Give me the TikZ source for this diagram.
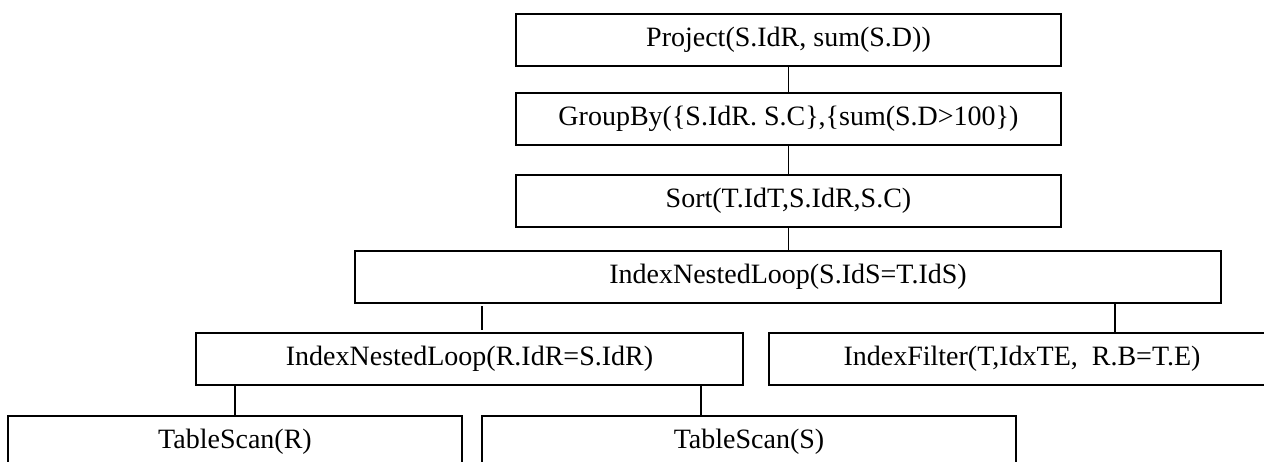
\documentclass[tikz,border=0pt]{standalone}
\usepackage{fontspec}
\setmainfont{Liberation Serif}
\begin{document}
\begin{tikzpicture}[x=1pt,y=-1pt,
  box/.style={draw, line width=2.6pt, inner sep=0pt, minimum height=52pt,
    font=\fontsize{28}{30}\selectfont},
  link/.style={line width=1.8pt}]
\useasboundingbox (0,0) rectangle (1264,462);
\clip (0,0) rectangle (1264,462);
\node[box, minimum width=545pt] (proj) at (788.5,40) {Project(S.IdR, sum(S.D))};
\node[box, minimum width=545pt] (grp) at (788.5,119) {GroupBy(\{S.IdR. S.C\},\{sum(S.D>100\})};
\node[box, minimum width=545pt] (sort) at (788.5,201) {Sort(T.IdT,S.IdR,S.C)};
\node[box, minimum width=866pt] (inl1) at (788,277) {IndexNestedLoop(S.IdS=T.IdS)};
\node[box, minimum width=547pt] (inl2) at (469.5,359) {IndexNestedLoop(R.IdR=S.IdR)};
\node[box, minimum width=506pt] (filt) at (1022,359) {IndexFilter(T,IdxTE,\ \ R.B=T.E)};
\node[box, minimum width=454pt] (tsR) at (235,442) {TableScan(R)};
\node[box, minimum width=534pt] (tsS) at (749,442) {TableScan(S)};
\coordinate (c1) at (482,0);
\coordinate (c2) at (1115,0);
\coordinate (c3) at (701,0);
\draw[link] (proj) -- (grp);
\draw[link] (grp) -- (sort);
\draw[link] (sort.south) -- (inl1.north -| sort.south);
\draw[link, shorten <=2pt, shorten >=2pt] (inl1.south -| c1) -- (inl2.north -| c1);
\draw[link] (inl1.south -| c2) -- (filt.north -| c2);
\draw[link] (inl2.south -| tsR.north) -- (tsR.north);
\draw[link] (inl2.south -| c3) -- (tsS.north -| c3);
\end{tikzpicture}
\end{document}
